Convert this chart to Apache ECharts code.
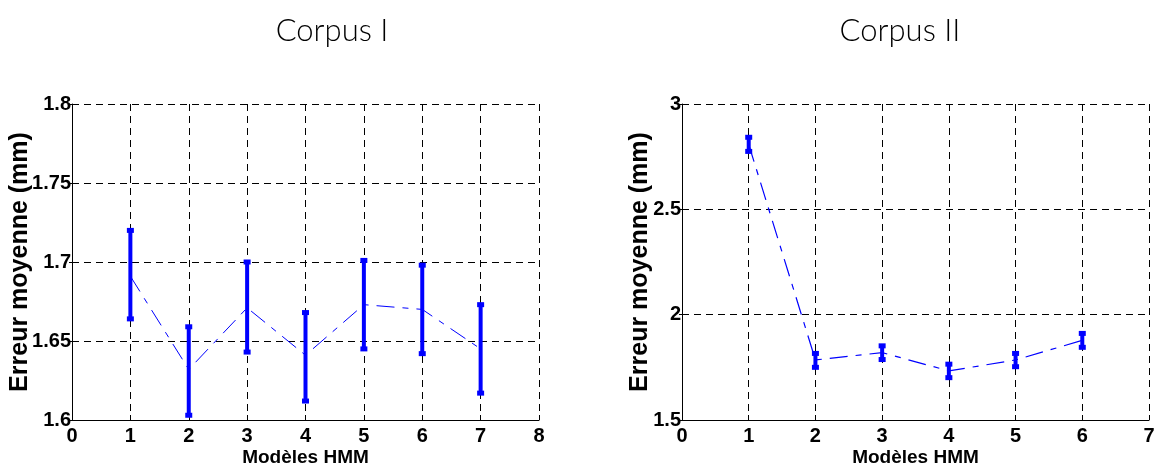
<!DOCTYPE html>
<html>
<head>
<meta charset="utf-8">
<script src="https://cdn.jsdelivr.net/npm/echarts@6/dist/echarts.min.js"></script>
<style>html,body{margin:0;padding:0;background:#fff;}#c{width:1157px;height:465px;}</style>
</head>
<body>
<div id="c"></div>
<script>
// ---- data ----
var titles = ['Corpus I', 'Corpus II'];
var xName = 'Modèles HMM';
var yName = 'Erreur moyenne (mm)';

var models1 = [1, 2, 3, 4, 5, 6, 7];
var mean1 = [1.691, 1.632, 1.671, 1.641, 1.673, 1.670, 1.645];
var low1  = [1.664, 1.603, 1.643, 1.612, 1.645, 1.642, 1.617];
var high1 = [1.720, 1.659, 1.700, 1.668, 1.701, 1.698, 1.673];

var models2 = [1, 2, 3, 4, 5, 6];
var mean2 = [2.808, 1.785, 1.820, 1.733, 1.785, 1.878];
var low2  = [2.775, 1.750, 1.787, 1.701, 1.753, 1.845];
var high2 = [2.842, 1.816, 1.852, 1.765, 1.816, 1.911];

var xRange1 = [0, 8], yRange1 = [1.6, 1.8], yStep1 = 0.05;
var xRange2 = [0, 7], yRange2 = [1.5, 3.0], yStep2 = 0.5;

// ---- helpers ----
function pairs(xs, ys) { return xs.map(function (x, i) { return [x, ys[i]]; }); }
function triples(xs, lo, hi) { return xs.map(function (x, i) { return [x, lo[i], hi[i]]; }); }

var BLUE = '#0000ff';
var labelFont = { color: '#000', fontFamily: 'Liberation Sans, Arial, sans-serif', fontWeight: 'bold', fontSize: 20 };

function errRender(params, api) {
  var x = api.value(0);
  var top = api.coord([x, api.value(2)]);
  var bot = api.coord([x, api.value(1)]);
  var lw = 4, cw = 7, ch = 5;
  return {
    type: 'group',
    children: [
      { type: 'rect', shape: { x: top[0] - lw / 2, y: top[1], width: lw, height: bot[1] - top[1] }, style: { fill: BLUE } },
      { type: 'rect', shape: { x: top[0] - cw / 2, y: top[1] - ch / 2, width: cw, height: ch }, style: { fill: BLUE } },
      { type: 'rect', shape: { x: bot[0] - cw / 2, y: bot[1] - ch / 2, width: cw, height: ch }, style: { fill: BLUE } }
    ]
  };
}

function xAxis(gi, range) {
  return {
    type: 'value', gridIndex: gi, min: range[0], max: range[1], interval: 1,
    name: xName, nameLocation: 'middle', nameGap: 28, nameMoveOverlap: false,
    nameTextStyle: { color: '#000', fontFamily: 'Liberation Sans, Arial, sans-serif', fontWeight: 'bold', fontSize: 19 },
    axisLine: { onZero: false, lineStyle: { color: '#000', width: 1 } },
    axisTick: { inside: true, length: 5, lineStyle: { color: '#000' } },
    axisLabel: Object.assign({ margin: 6 }, labelFont),
    splitLine: { show: true, lineStyle: { color: '#000', type: [7, 5], width: 1 } }
  };
}
function yAxis(gi, range, step, gap) {
  return {
    type: 'value', gridIndex: gi, min: range[0], max: range[1], interval: step,
    name: yName, nameLocation: 'middle', nameGap: gap, nameRotate: 90, nameMoveOverlap: false,
    nameTextStyle: { color: '#000', fontFamily: 'Liberation Sans, Arial, sans-serif', fontWeight: 'bold', fontSize: 25 },
    axisLine: { onZero: false, lineStyle: { color: '#000', width: 1 } },
    axisTick: { inside: false, length: 3, lineStyle: { color: '#000' } },
    axisLabel: Object.assign({ margin: 1, formatter: function (v) { return String(+v.toFixed(2)); } }, labelFont),
    splitLine: { show: true, lineStyle: { color: '#000', type: [7, 5], width: 1 } }
  };
}

var chart = echarts.init(document.getElementById('c'), null, { renderer: 'canvas' });
chart.setOption({
  animation: false,
  backgroundColor: '#fff',
  title: [
    { text: titles[0], left: 327, top: 10, textAlign: 'center',
      textStyle: { fontFamily: 'Lato, Open Sans, sans-serif', fontWeight: 300, fontSize: 31, color: '#000' } },
    { text: titles[1], left: 895, top: 10, textAlign: 'center',
      textStyle: { fontFamily: 'Lato, Open Sans, sans-serif', fontWeight: 300, fontSize: 31, color: '#000' } }
  ],
  grid: [
    { left: 72, top: 104, width: 467, height: 316, outerBoundsMode: 'none', containLabel: false },
    { left: 682, top: 104, width: 467, height: 316, outerBoundsMode: 'none', containLabel: false }
  ],
  xAxis: [xAxis(0, xRange1), xAxis(1, xRange2)],
  yAxis: [yAxis(0, yRange1, yStep1, 39), yAxis(1, yRange2, yStep2, 29)],
  series: [
    { type: 'line', xAxisIndex: 0, yAxisIndex: 0, data: pairs(models1, mean1), symbol: 'none', z: 2,
      lineStyle: { color: BLUE, width: 1, type: [18, 8, 6, 8] } },
    { type: 'custom', xAxisIndex: 0, yAxisIndex: 0, data: triples(models1, low1, high1), renderItem: errRender, z: 3 },
    { type: 'line', xAxisIndex: 1, yAxisIndex: 1, data: pairs(models2, mean2), symbol: 'none', z: 2,
      lineStyle: { color: BLUE, width: 1.2, type: [18, 8, 6, 8] } },
    { type: 'custom', xAxisIndex: 1, yAxisIndex: 1, data: triples(models2, low2, high2), renderItem: errRender, z: 3 }
  ]
});
</script>
</body>
</html>
